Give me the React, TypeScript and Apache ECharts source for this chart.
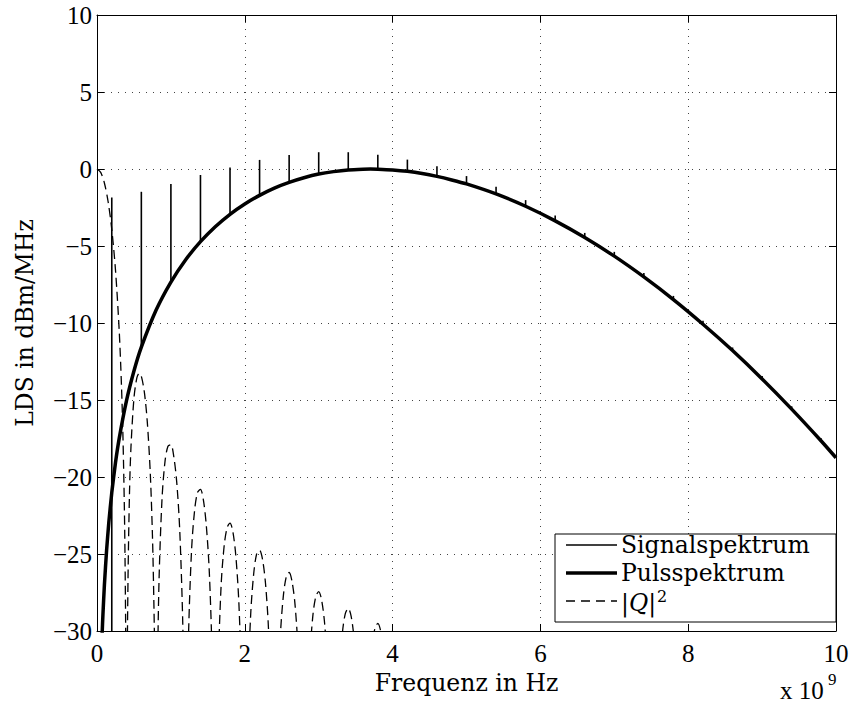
import React, { useEffect, useRef } from 'react';
import * as echarts from 'echarts';

// Axis ticks
const xTickValues = [0, 2, 4, 6, 8, 10];
const yTickValues = [-30, -25, -20, -15, -10, -5, 0, 5, 10];

// Pulsspektrum (thick curve), frequency in 1e9 Hz, level in dBm/MHz
const pulseFreq = [0.06, 0.07, 0.08, 0.1, 0.13, 0.16, 0.2, 0.25, 0.3, 0.4, 0.5, 0.6, 0.8, 1.0, 1.2, 1.4, 1.6, 1.8, 2.0, 2.2, 2.4, 2.6, 2.8, 3.0, 3.2, 3.4, 3.6, 3.7, 3.8, 4.0, 4.2, 4.4, 4.6, 4.8, 5.0, 5.4, 5.8, 6.2, 6.6, 7.0, 7.4, 7.8, 8.2, 8.6, 9.0, 9.4, 9.8, 10];
const pulseDb = [-31.46, -30.12, -28.96, -27.02, -24.75, -22.95, -21.01, -19.08, -17.51, -15.03, -13.12, -11.57, -9.16, -7.34, -5.89, -4.72, -3.75, -2.94, -2.27, -1.71, -1.24, -0.87, -0.57, -0.33, -0.17, -0.06, -0.01, 0, -0.01, -0.06, -0.15, -0.29, -0.48, -0.71, -0.97, -1.62, -2.42, -3.37, -4.45, -5.66, -7.01, -8.48, -10.08, -11.79, -13.63, -15.59, -17.66, -18.75];

// Signalspektrum (spectral lines): position, foot, tip
const signalFreq = [0.2, 0.6, 1.0, 1.4, 1.8, 2.2, 2.6, 3.0, 3.4, 3.8, 4.2, 4.6, 5.0, 5.4, 5.8, 6.2, 6.6, 7.0, 7.4, 7.8, 8.2, 8.6, 9.0, 9.4, 9.8];
const signalBase = [-30, -11.57, -7.34, -4.72, -2.94, -1.71, -0.87, -0.33, -0.06, -0.01, -0.15, -0.48, -0.97, -1.62, -2.42, -3.37, -4.45, -5.66, -7.01, -8.48, -10.08, -11.79, -13.63, -15.59, -17.66];
const signalTop = [-1.85, -1.48, -0.98, -0.39, 0.10, 0.59, 0.91, 1.09, 1.09, 0.93, 0.61, 0.18, -0.46, -1.15, -2.02, -3.02, -4.15, -5.38, -6.75, -8.24, -9.86, -11.59, -13.44, -15.41, -17.49];

// |Q|^2 (dashed)
const qFreq = [
  0, 0.05, 0.1, 0.15, 0.2, 0.25, 0.3, 0.33, 0.35, 0.37, 0.38, 0.39, 0.4,
  0.41, 0.42, 0.44, 0.46, 0.5, 0.54, 0.572, 0.6, 0.64, 0.68, 0.72, 0.75, 0.77, 0.78, 0.8,
  0.81, 0.82, 0.84, 0.88, 0.92, 0.96, 1.0, 1.04, 1.08, 1.12, 1.16, 1.18, 1.2,
  1.22, 1.24, 1.28, 1.32, 1.36, 1.40, 1.44, 1.48, 1.52, 1.56, 1.58, 1.6,
  1.62, 1.64, 1.68, 1.72, 1.76, 1.80, 1.84, 1.88, 1.92, 1.96, 1.98, 2.0,
  2.04, 2.08, 2.12, 2.16, 2.20, 2.24, 2.28, 2.32, 2.36, 2.4,
  2.44, 2.48, 2.52, 2.56, 2.60, 2.64, 2.68, 2.72, 2.76, 2.8,
  2.84, 2.88, 2.92, 2.96, 3.00, 3.04, 3.08, 3.12, 3.16, 3.2,
  3.28, 3.32, 3.36, 3.40, 3.44, 3.48, 3.52, 3.6,
  3.72, 3.76, 3.80, 3.84, 3.88, 4.0,
];
const qDb = [
  0, -0.22, -0.91, -2.11, -3.92, -6.55, -10.45, -13.91, -17.13, -21.9, -25.6, -31.8, -80,
  -32.3, -26.5, -20.97, -18.02, -14.89, -13.55, -13.26, -13.46, -14.46, -16.39, -19.66, -23.75, -28.27, -31.86, -80,
  -38.2, -32.3, -26.6, -21.4, -19.0, -18.0, -17.9, -18.7, -20.4, -23.5, -29.4, -35.5, -80,
  -35.7, -30.0, -24.7, -22.2, -21.0, -20.8, -21.5, -23.2, -26.2, -32.0, -38.0, -80,
  -38.3, -32.4, -27.0, -24.5, -23.3, -23.0, -23.6, -25.2, -28.2, -34.0, -40.0, -80,
  -34.3, -28.9, -26.3, -25.0, -24.75, -25.35, -26.9, -29.8, -35.6, -80,
  -35.9, -30.4, -27.8, -26.5, -26.2, -26.8, -28.3, -31.2, -36.9, -80,
  -37.1, -31.7, -29.05, -27.77, -27.44, -28.0, -29.5, -32.4, -38.1, -80,
  -33.0, -30.16, -28.87, -28.53, -29.07, -30.57, -33.4, -80,
  -31.15, -29.85, -29.50, -30.03, -31.4, -80,
];

const legendNames = ['Signalspektrum', 'Pulsspektrum'];

const TICK_FONT = "'Liberation Serif', 'Times New Roman', serif";
const TEXT_FONT = "'DejaVu Serif', serif";

export default function App() {
  const ref = useRef<HTMLDivElement>(null);

  useEffect(() => {
    if (!ref.current) return;
    const chart = echarts.init(ref.current, undefined, { renderer: 'svg' });

    const minus = (v: number) => String(v).replace('-', '\u2212');

    const axisLine = { show: true, onZero: false, lineStyle: { color: '#000', width: 1 } };
    const axisTick = { show: true, inside: true, length: 7, lineStyle: { color: '#000', width: 1 } };
    const gridLine = { show: true, lineStyle: { color: '#444', width: 1, type: [1, 6] as any } };

    const option: any = {
      animation: false,
      backgroundColor: '#fff',
      grid: { left: 97, right: 17, top: 15, bottom: 75, containLabel: false },
      xAxis: [
        {
          type: 'value', min: xTickValues[0], max: xTickValues[xTickValues.length - 1], interval: 2,
          position: 'bottom',
          axisLine, axisTick,
          axisLabel: { color: '#000', fontFamily: TICK_FONT, fontSize: 25, margin: 10, formatter: minus },
          splitLine: gridLine,
          name: 'Frequenz in Hz', nameLocation: 'middle', nameGap: 28,
          nameTextStyle: { color: '#000', fontFamily: TEXT_FONT, fontSize: 23.5 },
        },
        {
          type: 'value', min: 0, max: 10, interval: 2, position: 'top',
          axisLine, axisTick, axisLabel: { show: false }, splitLine: { show: false },
        },
      ],
      yAxis: [
        {
          type: 'value', min: yTickValues[0], max: yTickValues[yTickValues.length - 1], interval: 5,
          position: 'left',
          axisLine, axisTick,
          axisLabel: { color: '#000', fontFamily: TICK_FONT, fontSize: 25, margin: 5, formatter: minus },
          splitLine: gridLine,
          name: 'LDS in dBm/MHz', nameLocation: 'middle', nameGap: 60,
          nameTextStyle: { color: '#000', fontFamily: TEXT_FONT, fontSize: 23.5 },
        },
        {
          type: 'value', min: -30, max: 10, interval: 5, position: 'right',
          axisLine, axisTick, axisLabel: { show: false }, splitLine: { show: false },
        },
      ],
      series: [
        {
          name: legendNames[0],
          type: 'custom',
          data: signalFreq.map((f, i) => [f, signalBase[i], signalTop[i]]),
          encode: { x: 0, y: [1, 2] },
          clip: true,
          renderItem: (_params: any, api: any) => {
            const p1 = api.coord([api.value(0), api.value(1)]);
            const p2 = api.coord([api.value(0), api.value(2)]);
            return {
              type: 'line',
              shape: { x1: p1[0], y1: p1[1], x2: p2[0], y2: p2[1] },
              style: { stroke: '#000', lineWidth: 1.6 },
            };
          },
        },
        {
          name: legendNames[1],
          type: 'line',
          data: pulseFreq.map((f, i) => [f, pulseDb[i]]),
          symbol: 'none',
          smooth: 0.2,
          clip: true,
          lineStyle: { color: '#000', width: 3.5 },
        },
        {
          name: '|Q|^2',
          type: 'line',
          data: qFreq.map((f, i) => [f, qDb[i]]),
          symbol: 'none',
          smooth: 0.3,
          clip: true,
          lineStyle: { color: '#000', width: 1.3, type: [9, 5] },
        },
      ],
      graphic: [
        {
          type: 'rect', z: 100,
          shape: { x: 555, y: 534, width: 281, height: 88 },
          style: { fill: '#fff', stroke: '#000', lineWidth: 1 },
        },
        { type: 'line', z: 101, shape: { x1: 566, y1: 545, x2: 617, y2: 545 }, style: { stroke: '#000', lineWidth: 1.3 } },
        { type: 'line', z: 101, shape: { x1: 566, y1: 573, x2: 617, y2: 573 }, style: { stroke: '#000', lineWidth: 3.5 } },
        { type: 'line', z: 101, shape: { x1: 566, y1: 601, x2: 617, y2: 601 }, style: { stroke: '#000', lineWidth: 1.3, lineDash: [9, 6] } },
        {
          type: 'text', z: 101, x: 621, y: 545,
          style: { text: legendNames[0], fill: '#000', font: `23.5px ${TEXT_FONT}`, verticalAlign: 'middle', align: 'left' },
        },
        {
          type: 'text', z: 101, x: 621, y: 573,
          style: { text: legendNames[1], fill: '#000', font: `23.5px ${TEXT_FONT}`, verticalAlign: 'middle', align: 'left' },
        },
        {
          type: 'text', z: 101, x: 621, y: 603,
          style: {
            text: '{n||}{i|Q}{n||}',
            fill: '#000', verticalAlign: 'middle', align: 'left',
            rich: {
              n: { fontFamily: TEXT_FONT, fontSize: 23.5, fill: '#000' },
              i: { fontFamily: TEXT_FONT, fontSize: 23.5, fontStyle: 'italic', fill: '#000' },
            },
          },
        },
        {
          type: 'text', z: 101, x: 657, y: 596,
          style: { text: '2', fill: '#000', font: `16px ${TEXT_FONT}`, verticalAlign: 'middle', align: 'left' },
        },
        {
          type: 'text', z: 101, x: 780, y: 690,
          style: { text: 'x 10', fill: '#000', font: `25px ${TICK_FONT}`, verticalAlign: 'middle', align: 'left' },
        },
        {
          type: 'text', z: 101, x: 828, y: 679,
          style: { text: '9', fill: '#000', font: `17px ${TICK_FONT}`, verticalAlign: 'middle', align: 'left' },
        },
      ],
    };

    chart.setOption(option);
    return () => chart.dispose();
  }, []);

  return (
    <div
      ref={ref}
      style={{ position: 'absolute', left: 0, top: 0, width: 853, height: 706, background: '#fff' }}
    />
  );
}
